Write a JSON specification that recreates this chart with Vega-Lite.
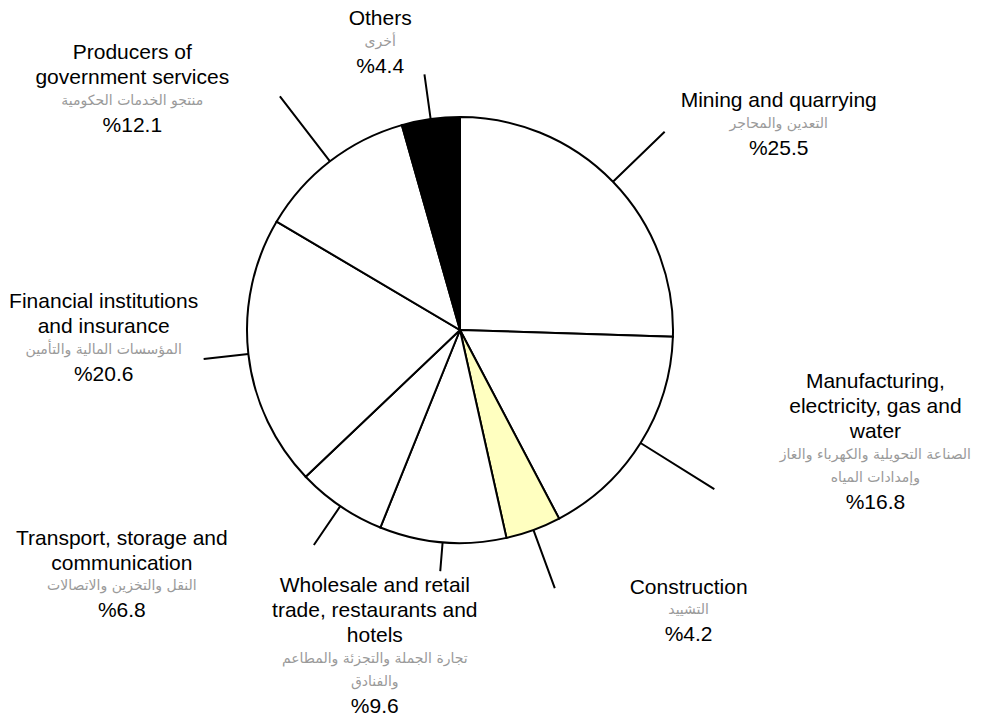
{
  "$schema": "https://vega.github.io/schema/vega-lite/v6.json",
  "width": 920,
  "height": 660,
  "autosize": {"type": "none"},
  "padding": {"left": 0, "top": 0, "right": 68, "bottom": 63},
  "background": "white",
  "config": {
    "view": {"stroke": null},
    "locale": {"number": {"decimal": ".", "thousands": ",", "grouping": [3], "currency": ["%", ""]}}
  },
  "data": {
    "values": [
      {"rank": 1, "sector": "Mining and quarrying", "arabic": "التعدين والمحاجر", "share": 25.5},
      {"rank": 2, "sector": "Manufacturing,\nelectricity, gas and\nwater", "arabic": "الصناعة التحويلية والكهرباء والغاز\nوإمدادات المياه", "share": 16.8},
      {"rank": 3, "sector": "Construction", "arabic": "التشييد", "share": 4.2},
      {"rank": 4, "sector": "Wholesale and retail\ntrade, restaurants and\nhotels", "arabic": "تجارة الجملة والتجزئة والمطاعم\nوالفنادق", "share": 9.6},
      {"rank": 5, "sector": "Transport, storage and\ncommunication", "arabic": "النقل والتخزين والاتصالات", "share": 6.8},
      {"rank": 6, "sector": "Financial institutions\nand insurance", "arabic": "المؤسسات المالية والتأمين", "share": 20.6},
      {"rank": 7, "sector": "Producers of\ngovernment services", "arabic": "منتجو الخدمات الحكومية", "share": 12.1},
      {"rank": 8, "sector": "Others", "arabic": "أخرى", "share": 4.4}
    ]
  },
  "encoding": {
    "theta": {"field": "share", "type": "quantitative", "stack": true, "scale": {"type": "linear"}},
    "order": {"field": "rank", "type": "quantitative"}
  },
  "layer": [
    {
      "mark": {"type": "arc", "outerRadius": 213, "stroke": "black", "strokeWidth": 2},
      "encoding": {
        "fill": {
          "field": "sector",
          "type": "nominal",
          "legend": null,
          "scale": {
            "domain": [
              "Mining and quarrying",
              "Manufacturing,\nelectricity, gas and\nwater",
              "Construction",
              "Wholesale and retail\ntrade, restaurants and\nhotels",
              "Transport, storage and\ncommunication",
              "Financial institutions\nand insurance",
              "Producers of\ngovernment services",
              "Others"
            ],
            "range": ["#ffffff", "#ffffff", "#ffffc0", "#ffffff", "#ffffff", "#ffffff", "#ffffff", "#000000"]
          }
        }
      }
    },
    {
      "mark": {
        "type": "arc",
        "innerRadius": 213,
        "outerRadius": {"expr": "[285,300,275,242,260,258,295,258][datum.rank-1]"},
        "padAngle": 3,
        "filled": false,
        "stroke": "black",
        "strokeWidth": 2
      }
    },
    {
      "mark": {
        "type": "text",
        "radius": 260,
        "font": "Liberation Sans",
        "fontSize": 21,
        "lineHeight": 25,
        "lineBreak": "\n",
        "align": "center",
        "baseline": "alphabetic",
        "color": "black",
        "dx": {"expr": "[132,195,139,-64,-192,-98,-169,-44][datum.rank-1]"},
        "dy": {"expr": "[-42,-80,20,3,0,-51,-65,-47][datum.rank-1]"}
      },
      "encoding": {"text": {"field": "sector", "type": "nominal"}}
    },
    {
      "mark": {
        "type": "text",
        "radius": 260,
        "font": "DejaVu Sans",
        "fontSize": 14,
        "lineHeight": 23,
        "lineBreak": "\n",
        "align": "center",
        "baseline": "top",
        "color": "#9a9a9a",
        "dx": {"expr": "[132,195,139,-64,-192,-98,-169,-44][datum.rank-1]"},
        "dy": {"expr": "[-32,-20,29,63,34,-16,-30,-37][datum.rank-1]"}
      },
      "encoding": {"text": {"field": "arabic", "type": "nominal"}}
    },
    {
      "mark": {
        "type": "text",
        "radius": 260,
        "font": "Liberation Sans",
        "fontSize": 21,
        "align": "center",
        "baseline": "middle",
        "color": "black",
        "dx": {"expr": "[132,195,139,-64,-192,-98,-169,-44][datum.rank-1]"},
        "dy": {"expr": "[0,35,61,118,66,16,2,-5][datum.rank-1]"}
      },
      "encoding": {"text": {"field": "share", "type": "quantitative", "format": "$.1f"}}
    }
  ]
}
